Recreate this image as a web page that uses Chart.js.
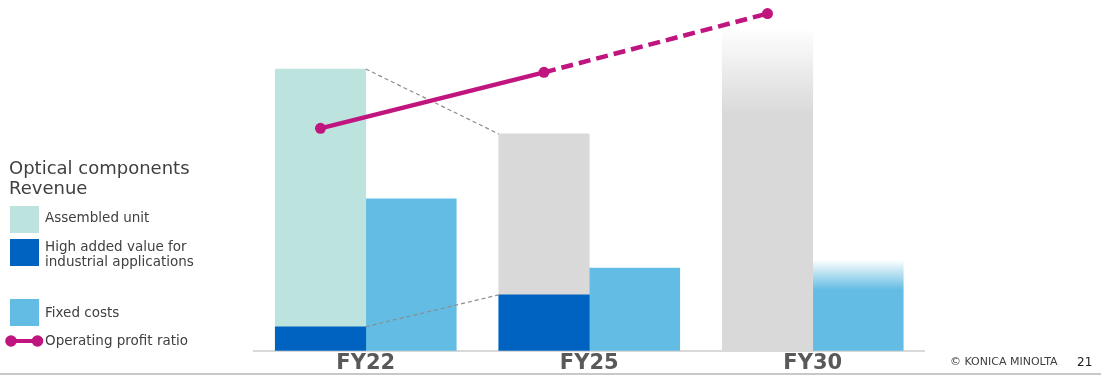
<!DOCTYPE html>
<html>
<head>
<meta charset="utf-8">
<title>Optical components</title>
<script src="https://cdn.jsdelivr.net/npm/chart.js@4.4.1/dist/chart.umd.min.js"></script>
<style>
  body { margin: 0; background: #fff; overflow: hidden; font-family: 'DejaVu Sans', Verdana, sans-serif; color: #404040; }
  #wrap { position: relative; width: 1101px; height: 376px; }
  #chartBox { position: absolute; left: 0; top: 0; width: 1101px; height: 376px; }
  .legend-title { position: absolute; left: 9px; top: 158px; font-size: 18px; line-height: 20px; white-space: nowrap; }
  .swatch { position: absolute; left: 10px; width: 29px; height: 27px; }
  .item { position: absolute; left: 45px; font-size: 13.5px; line-height: 15px; white-space: nowrap; }
  .marker { position: absolute; left: 4px; top: 334px; }
  .footer-line { position: absolute; left: 0; top: 373px; width: 1101px; height: 2px; background: #c8c8c8; }
  .copyright { position: absolute; left: 950px; top: 355.5px; font-size: 11px; line-height: 12px; white-space: nowrap; }
  .page-no { position: absolute; left: 1077px; top: 355px; font-size: 12px; line-height: 14px; color: #202020; }
</style>
</head>
<body>
<div id="wrap">
  <div id="chartBox"><canvas id="barChart"></canvas></div>

  <div class="legend-title">Optical components<br>Revenue</div>
  <div class="swatch" style="top:206px; background:#bde3df"></div>
  <div class="item" style="top:210px">Assembled unit</div>
  <div class="swatch" style="top:239px; background:#0063c2"></div>
  <div class="item" style="top:238.5px">High added value for<br>industrial applications</div>
  <div class="swatch" style="top:299px; background:#63bce3"></div>
  <div class="item" style="top:304.5px">Fixed costs</div>
  <svg class="marker" width="42" height="14">
    <line x1="7" y1="7" x2="33" y2="7" stroke="#c0147e" stroke-width="4"></line>
    <circle cx="7" cy="7" r="5.8" fill="#c0147e"></circle>
    <circle cx="33.5" cy="7" r="5.8" fill="#c0147e"></circle>
  </svg>
  <div class="item" style="top:333px">Operating profit ratio</div>

  <div class="footer-line"></div>
  <div class="copyright">© KONICA MINOLTA</div>
  <div class="page-no">21</div>
</div>

<script>
const categories = ['FY22', 'FY25', 'FY30'];
const highValueRevenue = [8.6, 20.0, null];
const assembledRevenue = [92.1, null, null];
const plannedRevenue = [null, 57.5, 114.6];
const fixedCosts = [54.3, 29.6, 32.5];
const operatingProfitRatio = [15.9, 19.9, 24.1];

const COLORS = {
    assembled: '#bde3df',
    highValue: '#0063c2',
    planned: '#d9d9d9',
    fixed: '#63bce3',
    profit: '#c0147e'
};

const barWidth = 90.5;
// profit line sits over the centre of the left (revenue) bar: half a bar, in category units
const lineShift = 0.2025;
// ratio shares the revenue axis, stretched so 25% spans the full height
const ratioScale = 5;

// x is a linear index axis (0, 1, 2) so the line can sit off-centre
const byIndex = (arr, shift = 0, k = 1) =>
    arr.map((v, i) => ({ x: i - shift, y: v == null ? null : v * k }));

// FY30 bars fade out towards the top
const fadeTop = (base, transparent, fadeShare) => (ctx) => {
    const { chart, dataIndex, raw } = ctx;
    const value = raw && raw.y;
    if (dataIndex !== categories.length - 1 || value == null || !chart.chartArea) return base;
    const y = chart.scales.y;
    const top = y.getPixelForValue(value);
    const solid = y.getPixelForValue(value * (1 - fadeShare));
    const grad = chart.ctx.createLinearGradient(0, top, 0, solid);
    grad.addColorStop(0, transparent);
    grad.addColorStop(1, base);
    return grad;
};

// dashed guides joining the revenue bars of FY22 and FY25,
// drawn once the last bar dataset is done so they sit over the bars but under the line
const connectorLines = {
    id: 'connectorLines',
    afterDatasetDraw(chart, args) {
        if (args.index !== 0) return;
        const pairs = [
            [chart.getDatasetMeta(1).data[0], chart.getDatasetMeta(2).data[1]],
            [chart.getDatasetMeta(0).data[0], chart.getDatasetMeta(0).data[1]]
        ];
        const c = chart.ctx;
        c.save();
        c.strokeStyle = '#8c8c8c';
        c.lineWidth = 1.2;
        c.setLineDash([4, 3]);
        pairs.forEach(([a, b]) => {
            if (!a || !b) return;
            c.beginPath();
            c.moveTo(a.x + a.width / 2, a.y);
            c.lineTo(b.x - b.width / 2, b.y);
            c.stroke();
        });
        c.restore();
    }
};

const ctx = document.getElementById('barChart').getContext('2d');

new Chart(ctx, {
    type: 'bar',
    data: {
        datasets: [
            {
                label: 'High added value for industrial applications',
                data: byIndex(highValueRevenue),
                backgroundColor: COLORS.highValue,
                stack: 'revenue',
                order: 2
            },
            {
                label: 'Assembled unit',
                data: byIndex(assembledRevenue),
                backgroundColor: COLORS.assembled,
                stack: 'revenue',
                order: 2
            },
            {
                label: 'Revenue',
                data: byIndex(plannedRevenue),
                backgroundColor: fadeTop(COLORS.planned, 'rgba(217,217,217,0.03)', 0.26),
                stack: 'revenue',
                order: 2
            },
            {
                label: 'Fixed costs',
                data: byIndex(fixedCosts),
                backgroundColor: fadeTop(COLORS.fixed, 'rgba(99,188,227,0)', 0.33),
                stack: 'costs',
                order: 2
            },
            {
                type: 'line',
                label: 'Operating profit ratio',
                data: byIndex(operatingProfitRatio, lineShift, ratioScale),
                borderColor: COLORS.profit,
                backgroundColor: COLORS.profit,
                borderWidth: 4.5,
                pointRadius: 5.5,
                pointBorderWidth: 0,
                pointBackgroundColor: COLORS.profit,
                tension: 0,
                clip: false,
                order: 0,
                segment: {
                    borderDash: (s) => s.p0DataIndex >= 1 ? [12, 6] : undefined
                }
            }
        ]
    },
    options: {
        responsive: true,
        maintainAspectRatio: false,
        animation: false,
        datasets: {
            bar: {
                barThickness: barWidth,
                borderWidth: 0
            }
        },
        layout: {
            autoPadding: false,
            padding: { left: 254, right: 176.5, top: 1, bottom: 0 }
        },
        plugins: {
            legend: { display: false },
            tooltip: { enabled: false }
        },
        scales: {
            x: {
                type: 'linear',
                stacked: true,
                offset: false,
                min: -0.5,
                max: categories.length - 0.5,
                afterBuildTicks: (axis) => {
                    axis.ticks = categories.map((_, i) => ({ value: i }));
                },
                grid: { display: false, drawTicks: false },
                border: { display: true, color: '#d9d9d9', width: 2 },
                ticks: {
                    padding: 0,
                    autoSkip: false,
                    maxRotation: 0,
                    color: '#595959',
                    font: { family: "'DejaVu Sans', Verdana, sans-serif", size: 21, weight: 'bold' },
                    callback: (value) => categories[value]
                }
            },
            y: {
                stacked: true,
                display: false,
                min: 0,
                max: 125
            }
        }
    },
    plugins: [connectorLines]
});
</script>
</body>
</html>
